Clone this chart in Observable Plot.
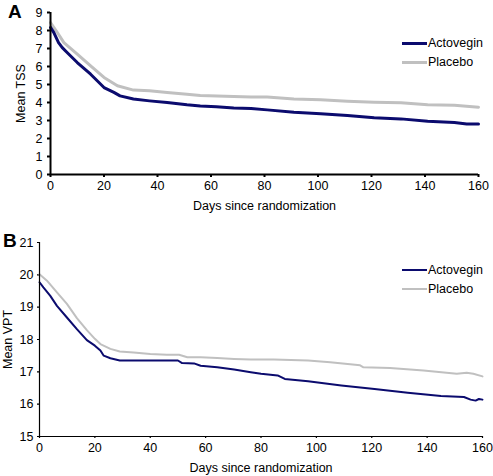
<!DOCTYPE html>
<html>
<head>
<meta charset="utf-8">
<script src="https://cdn.jsdelivr.net/npm/d3@7"></script>
<script src="https://cdn.jsdelivr.net/npm/@observablehq/plot@0.6"></script>
<style>
  html, body { margin: 0; padding: 0; background: #fff; }
  #wrap { position: relative; width: 493px; height: 476px; font-family: "Liberation Sans", Arial, sans-serif; }
  .panel { position: absolute; left: 0; }
  .tag { position: absolute; font-weight: bold; font-size: 19px; color: #000; }
  .leg { position: absolute; font-size: 12.5px; color: #000; display: flex; align-items: center; }
  .leg span.sw { display: inline-block; width: 25px; margin-right: 1px; }
</style>
</head>
<body>
<div id="wrap"></div>
<script>
// Panel A: Mean TSS
const daysA_act = [0, 1.2, 3, 4.4, 6.2, 10, 15, 20, 23.7, 26, 31, 37, 43.6, 51, 56, 62, 68.5, 75, 81, 91, 101, 111, 121, 131, 141, 151, 155.6, 160];
const tssA_act  = [8.17, 7.9, 7.33, 7.05, 6.78, 6.22, 5.57, 4.83, 4.56, 4.37, 4.19, 4.09, 4.0, 3.87, 3.8, 3.76, 3.69, 3.67, 3.59, 3.46, 3.37, 3.28, 3.15, 3.09, 2.96, 2.89, 2.81, 2.81];
const daysA_pla = [0, 2.5, 5, 10, 15, 20, 25, 31, 37, 43.6, 51, 56, 68.5, 75, 81, 91, 101, 111, 121, 131, 141, 151, 160];
const tssA_pla  = [8.44, 7.9, 7.33, 6.69, 6.04, 5.39, 4.93, 4.69, 4.65, 4.56, 4.46, 4.39, 4.33, 4.31, 4.3, 4.2, 4.15, 4.07, 4.02, 3.98, 3.87, 3.85, 3.74];

// Panel B: Mean VPT
const daysB_act = [0, 1.4, 3.9, 6.3, 9.9, 13.5, 17.1, 20, 22, 23.2, 25.6, 29, 34, 50, 51.5, 55.8, 58.2, 64.2, 70.3, 76.3, 80, 86, 88.6, 97, 109, 121, 133, 145, 153.3, 155.7, 157.5, 158.7, 160];
const vptB_act  = [19.77, 19.61, 19.35, 19.04, 18.68, 18.32, 17.98, 17.81, 17.66, 17.5, 17.42, 17.35, 17.35, 17.35, 17.27, 17.26, 17.19, 17.14, 17.07, 16.99, 16.94, 16.89, 16.78, 16.71, 16.58, 16.47, 16.35, 16.25, 16.22, 16.14, 16.11, 16.16, 16.14];
const daysB_pla = [0, 2.7, 6.3, 9.9, 13.5, 17.1, 20, 22, 25.6, 29, 34, 40, 46, 50.4, 53.4, 58.2, 64.2, 70.3, 76.3, 84.6, 97, 105, 115.8, 117, 126.6, 138.7, 150.7, 154.3, 156.7, 160];
const vptB_pla  = [20.02, 19.82, 19.46, 19.1, 18.66, 18.29, 18.02, 17.86, 17.71, 17.63, 17.6, 17.55, 17.53, 17.53, 17.45, 17.45, 17.43, 17.4, 17.38, 17.38, 17.35, 17.3, 17.2, 17.14, 17.12, 17.04, 16.94, 16.97, 16.94, 16.86];

const seriesNames = ["Actovegin", "Placebo"];
const xTicks = [0, 20, 40, 60, 80, 100, 120, 140, 160];
const yTicksA = [0, 1, 2, 3, 4, 5, 6, 7, 8, 9];
const yTicksB = [15, 16, 17, 18, 19, 20, 21];
const xLabel = "Days since randomization";
const yLabelA = "Mean TSS";
const yLabelB = "Mean VPT";

const colors = {Actovegin: "#0b0b6e", Placebo: "#c0c0c0"};

function rows(days, vals, name) { return days.map((d, i) => ({day: d, v: vals[i], s: name})); }

const font = "Liberation Sans, Arial, sans-serif";

function panel(opts) {
  const data = [...rows(opts.dAct, opts.vAct, "Actovegin"), ...rows(opts.dPla, opts.vPla, "Placebo")];
  return Plot.plot({
    width: 493,
    height: opts.height,
    marginLeft: opts.ml,
    marginRight: opts.mr,
    marginTop: opts.mt,
    marginBottom: opts.mb,
    style: {fontFamily: font, fontSize: "12.5px", color: "#000", background: "#fff", overflow: "visible"},
    x: {domain: [0, 160]},
    y: {domain: opts.yDomain},
    marks: [
      Plot.axisX({ticks: xTicks, tickSize: opts.ts, tickPadding: opts.xPad, fontSize: 12.5, stroke: "#000", strokeWidth: opts.aw, tickFormat: d => d,
        label: xLabel, labelAnchor: "center", labelArrow: "none", labelOffset: opts.xLabelOffset}),
      Plot.axisY({ticks: opts.yTicks, tickSize: opts.ts, tickPadding: opts.yPad, fontSize: 12.5, stroke: "#000", strokeWidth: opts.aw, tickFormat: d => d,
        label: opts.yLabel, labelAnchor: "center", labelArrow: "none", labelOffset: opts.yLabelOffset}),
      Plot.line(data.filter(d => d.s === "Placebo"), {x: "day", y: "v", stroke: colors.Placebo, strokeWidth: opts.sw}),
      Plot.line(data.filter(d => d.s === "Actovegin"), {x: "day", y: "v", stroke: colors.Actovegin, strokeWidth: opts.sw}),
      Plot.ruleX([0], {stroke: "#000", strokeWidth: opts.aw}),
      Plot.ruleY([opts.yDomain[0]], {stroke: "#000", strokeWidth: opts.aw})
    ]
  });
}

const wrap = document.getElementById("wrap");

const A = panel({dAct: daysA_act, vAct: tssA_act, dPla: daysA_pla, vPla: tssA_pla, height: 230,
  ml: 50, mr: 15, mt: 12, mb: 56, yDomain: [0, 9], yTicks: yTicksA, yLabel: yLabelA,
  xLabelOffset: 35, yLabelOffset: 34, sw: 3, ts: 3, aw: 2, xPad: 4, yPad: 5});
A.classList.add("panel"); A.style.top = "0px";
wrap.appendChild(A);

const B = panel({dAct: daysB_act, vAct: vptB_act, dPla: daysB_pla, vPla: vptB_pla, height: 246,
  ml: 39, mr: 11, mt: 12, mb: 40, yDomain: [15, 21], yTicks: yTicksB, yLabel: yLabelB,
  xLabelOffset: 35, yLabelOffset: 36, sw: 2, ts: 2, aw: 1.2, xPad: 5, yPad: 4});
B.classList.add("panel"); B.style.top = "230px";
wrap.appendChild(B);

function tag(txt, x, y) {
  const d = document.createElement("div"); d.className = "tag"; d.textContent = txt;
  d.style.left = x + "px"; d.style.top = y + "px"; wrap.appendChild(d);
}
tag("A", 8, 1);
tag("B", 3, 230);

function legend(name, x, y, w) {
  const d = document.createElement("div"); d.className = "leg";
  d.style.left = x + "px"; d.style.top = (y - 8) + "px"; d.style.height = "16px";
  const sw = document.createElement("span"); sw.className = "sw";
  sw.style.height = w + "px"; sw.style.background = colors[name];
  d.appendChild(sw);
  const t = document.createElement("span"); t.textContent = name; d.appendChild(t);
  wrap.appendChild(d);
}
legend(seriesNames[0], 402, 43, 3);
legend(seriesNames[1], 402, 62, 3);
legend(seriesNames[0], 402, 270, 2);
legend(seriesNames[1], 402, 289, 2);
</script>
</body>
</html>
